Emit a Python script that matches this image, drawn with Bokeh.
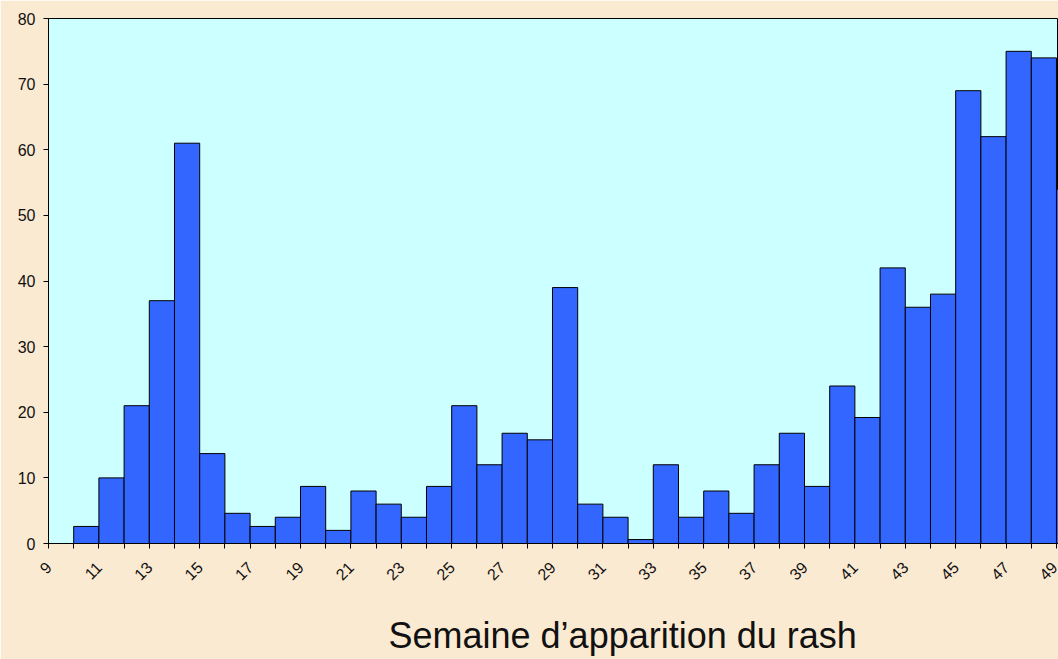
from math import pi
from bokeh.plotting import figure
from bokeh.models import Range1d, FixedTicker, Title, ColumnDataSource
from bokeh.embed import file_html
from bokeh.resources import INLINE

# Data: weekly number of cases by week of rash onset
weeks = list(range(9, 50))
cases = [0, 2.6, 10, 21, 37, 61, 13.7, 4.6, 2.6, 4, 8.7, 2, 8, 6, 4, 8.7,
         21, 12, 16.8, 15.8, 39, 6, 4, 0.6, 12, 4, 8, 4.6, 12, 16.8, 8.7,
         24, 19.2, 42, 36, 38, 69, 62, 75, 74, 54]
y_ticks = [0, 10, 20, 30, 40, 50, 60, 70, 80]
x_title = "Semaine d\u2019apparition du rash"

src = ColumnDataSource(dict(left=weeks, right=[w + 1 for w in weeks],
                            top=cases, bottom=[0] * len(weeks)))

p = figure(width=1058, height=659, output_backend="svg", toolbar_location=None,
           x_range=Range1d(9, 49.08), y_range=Range1d(0, 80),
           min_border_left=48, min_border_top=18, min_border_bottom=116,
           min_border_right=0)

p.background_fill_color = "#CCFFFF"
p.border_fill_color = "#FBEAD2"
p.outline_line_color = "black"
p.outline_line_width = 1
p.grid.visible = False

p.quad(left="left", right="right", top="top", bottom="bottom", source=src,
       fill_color="#3366FF", line_color="black", line_width=1)

# x axis
p.xaxis.ticker = FixedTicker(ticks=weeks)
p.xaxis.major_label_overrides = {w: (str(w) if w % 2 == 1 else "") for w in weeks}
p.xaxis.major_label_orientation = pi / 4
p.xaxis.minor_tick_line_color = None
p.xaxis.major_tick_in = 0
p.xaxis.major_tick_out = 5
p.xaxis.major_label_standoff = 16
p.xaxis.axis_line_color = "black"
p.xaxis.major_tick_line_color = "black"
p.xaxis.major_label_text_font = "Liberation Sans"
p.xaxis.major_label_text_font_size = "16px"
p.xaxis.major_label_text_color = "#111111"

# y axis
p.yaxis.ticker = FixedTicker(ticks=y_ticks)
p.yaxis.minor_tick_line_color = None
p.yaxis.major_tick_in = 0
p.yaxis.major_tick_out = 5
p.yaxis.major_label_standoff = 8
p.yaxis.axis_line_color = "black"
p.yaxis.major_tick_line_color = "black"
p.yaxis.major_label_text_font = "Liberation Sans"
p.yaxis.major_label_text_font_size = "16px"
p.yaxis.major_label_text_color = "#111111"

spacer = Title(text=" ", text_font_size="1px", standoff=19)
p.add_layout(spacer, "below")
title = Title(text=x_title, align="left", offset=340, standoff=4,
              vertical_align="bottom",
              text_font="Liberation Sans", text_font_size="36px",
              text_font_style="normal", text_color="#111111")
p.add_layout(title, "below")

open("out.html", "w").write(file_html(p, INLINE))
